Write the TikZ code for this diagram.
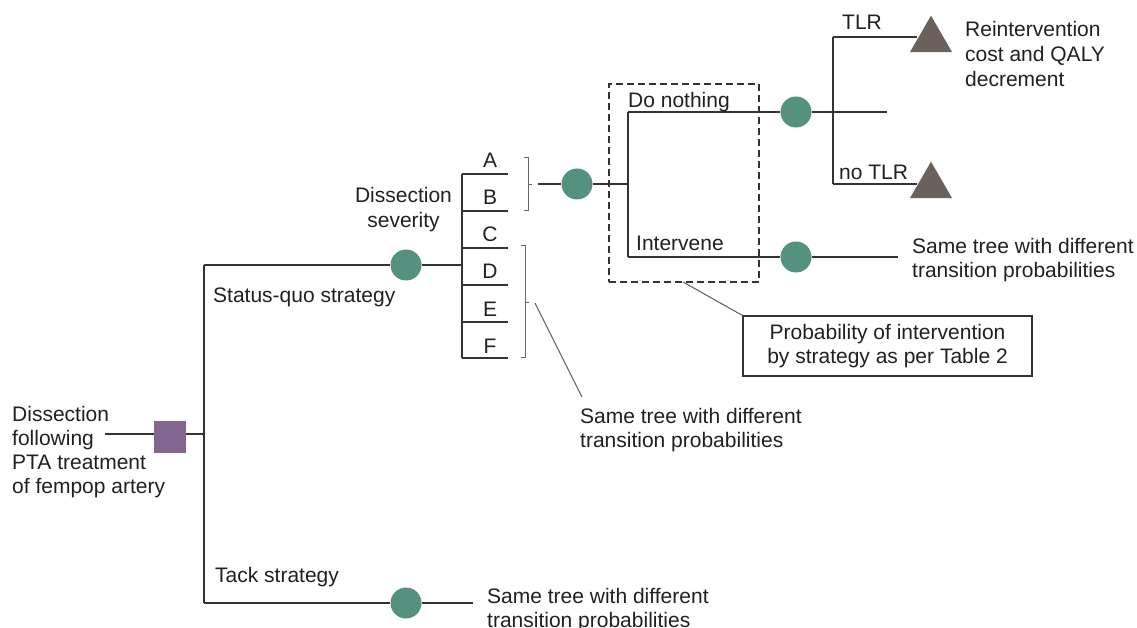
\documentclass[tikz,border=0pt]{standalone}
\usepackage{fontspec}
\setmainfont{Liberation Sans}
\usetikzlibrary{shapes.geometric}
\definecolor{chance}{HTML}{54917F}
\definecolor{decis}{HTML}{836690}
\definecolor{termc}{HTML}{6A615C}
\definecolor{ln}{HTML}{333333}
\definecolor{txt}{HTML}{231F20}
\begin{document}
\begin{tikzpicture}[x=1pt,y=-1pt,
  every node/.style={font=\fontsize{21}{24}\selectfont, inner sep=0pt, text=txt},
  br/.style={draw=ln, line width=1.3pt},
  thinline/.style={draw=ln!80, line width=1pt},
  chn/.style={circle, fill=chance, minimum size=31pt, inner sep=0pt},
  dec/.style={rectangle, fill=decis, minimum size=32pt},
  term/.style={regular polygon, regular polygon sides=3, fill=termc, minimum size=48.5pt},
  lbl/.style={anchor=base west, align=left},
  brk/.style={draw=ln!75, line width=1pt},
]
\useasboundingbox (0,0) rectangle (1137,628);

% root (anchor = baseline of last line)
\node[lbl] (root) at (12,493.5) {Dissection\\following\\PTA treatment\\of fempop artery};
\coordinate (rootend) at (105,434);
\node[dec] (sq) at (170,436.5) {};
\coordinate (split) at (204,434);
\coordinate (sqtop) at (204,265);
\coordinate (sqbot) at (204,603);
\draw[br] (rootend) -- (sq.west |- rootend);
\draw[br] (sq.east |- split) -- (split);
\draw[br] (sqtop) -- (sqbot);

% status quo
\node[chn] (sqc) at (406,265) {};
\coordinate (sevsplit) at (462,265);
\draw[br] (sqtop) -- (sqc) -- (sevsplit);
\node[lbl] (sqlab) at (213,302) {Status-quo strategy};

% tack
\node[chn] (tc) at (406,603) {};
\coordinate (tend) at (473,603);
\draw[br] (sqbot) -- (tc) -- (tend);
\node[lbl] (tlab) at (215,582) {Tack strategy};
\node[lbl] (tsame) at (487,627) {Same tree with different\\transition probabilities};

% severity
\node[anchor=base, align=center, font=\fontsize{21}{25}\selectfont] (sev) at (403.5,228) {Dissection\\severity};
\foreach \l/\y in {A/168,B/205,C/242,D/279,E/316,F/353}
  \node[anchor=base] (sev\l) at (490,\y) {\l};
\foreach \y [count=\i] in {174,211,248,285,322,358} {
  \coordinate (b\i) at (462,\y);
  \coordinate (e\i) at (508,\y);
  \draw[br] (b\i) -- (e\i);
}
\draw[br] (b1) -- (b6);

% brackets
\draw[brk] (524,158) -- (528,158) -- (528,211) -- (524,211);
\draw[brk] (528,184.5) -- (532,184.5);
\draw[brk] (521,246) -- (525,246) -- (525,357) -- (521,357);
\draw[brk] (525,302) -- (529,302);

% A-B chance
\coordinate (abstart) at (538,184);
\node[chn] (abc) at (577,184) {};
\coordinate (dsplit) at (628,184);
\draw[br] (abstart) -- (abc) -- (dsplit);

% C-F callout
\coordinate (cfs) at (535,303);
\coordinate (cfe) at (582,397);
\draw[thinline] (cfs) -- (cfe);
\node[lbl] (msame) at (580,447) {Same tree with different\\transition probabilities};

% decision do nothing / intervene
\coordinate (dntop) at (628,112);
\coordinate (inbot) at (628,257);
\draw[br] (dntop) -- (inbot);
\node[chn] (dnc) at (796,112) {};
\coordinate (dnend) at (887,112);
\draw[br] (dntop) -- (dnc) -- (dnend);
\node[lbl] (dnlab) at (628,108) {Do nothing};
\node[chn] (inc) at (796,257) {};
\coordinate (inend) at (898,257);
\draw[br] (inbot) -- (inc) -- (inend);
\node[lbl] (inlab) at (636,251) {Intervene};
\node[lbl] (rsame) at (912,277) {Same tree with different\\transition probabilities};

% dashed box
\node[draw=ln, dash pattern=on 7pt off 4pt, line width=1.5pt, minimum width=150pt, minimum height=198pt] (dbox) at (684,183) {};

% probability box
\node[draw=ln, line width=1.2pt, minimum width=289pt, minimum height=60pt, align=center] (pbox) at (887.5,346) {Probability of intervention\\by strategy as per Table 2};
\coordinate (cl) at (683,282);
\draw[thinline] (cl) -- (pbox.north west);

% TLR
\coordinate (tlrtop) at (833,37);
\coordinate (tlrbot) at (833,184);
\draw[br] (tlrtop) -- (tlrbot);
\node[term] (t1) at (931,39.9) {};
\node[term] (t2) at (931,185.9) {};
\draw[br] (tlrtop) -- (t1.west |- tlrtop);
\draw[br] (tlrbot) -- (t2.west |- tlrbot);
\node[lbl] (tlrlab) at (842,30) {TLR};
\node[lbl] (ntlrlab) at (839,180) {no TLR};
\node[lbl, font=\fontsize{21}{25}\selectfont] (reint) at (965,87) {Reintervention\\cost and QALY\\decrement};
\end{tikzpicture}
\end{document}
